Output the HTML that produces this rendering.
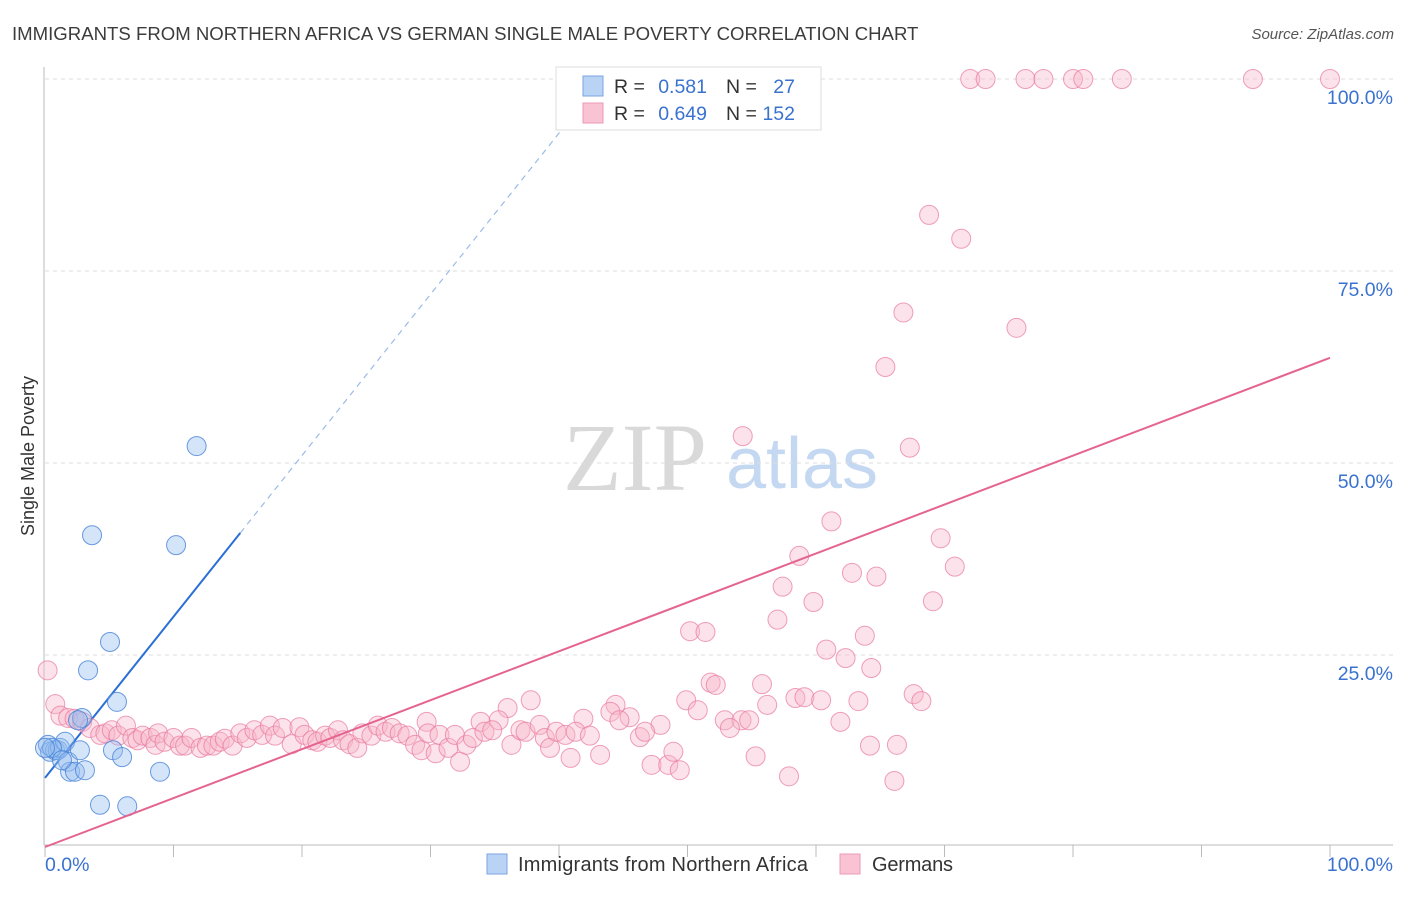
<!DOCTYPE html>
<html><head><meta charset="utf-8"><style>
body{margin:0;background:#fff;font-family:"Liberation Sans",sans-serif;}
</style></head><body>
<svg width="1406" height="892" xmlns="http://www.w3.org/2000/svg" id="chart">
<text x="12" y="40" font-size="18.6" fill="#3c3c3c">IMMIGRANTS FROM NORTHERN AFRICA VS GERMAN SINGLE MALE POVERTY CORRELATION CHART</text>
<text x="1394" y="39" font-size="15" fill="#555" font-style="italic" text-anchor="end">Source: ZipAtlas.com</text>
<text transform="translate(34,456) rotate(-90)" font-size="18" fill="#333" text-anchor="middle">Single Male Poverty</text>
<g>
<text x="635" y="490" font-size="96" fill="#d9d9d9" text-anchor="middle" font-family="Liberation Serif,serif">ZIP</text>
<text x="802" y="488" font-size="72" fill="#c5d8f2" text-anchor="middle">atlas</text>
</g>
<g id="grid"></g>
<g id="axes"></g>
<g id="lines"></g>
<g id="pts"></g>
<g>
<rect x="556" y="67" width="265" height="63" fill="#fff" stroke="#ddd"/>
<rect x="583" y="76" width="20" height="20" fill="#b9d3f5" stroke="#7aa6e0"/>
<rect x="583" y="103" width="20" height="20" fill="#f9c3d3" stroke="#eb9ab5"/>
<text x="614" y="93" font-size="19.5" fill="#333">R =</text>
<text x="707" y="93" font-size="19.5" fill="#3a72cf" text-anchor="end">0.581</text>
<text x="726" y="93" font-size="19.5" fill="#333">N =</text>
<text x="795" y="93" font-size="19.5" fill="#3a72cf" text-anchor="end">27</text>
<text x="614" y="120" font-size="19.5" fill="#333">R =</text>
<text x="707" y="120" font-size="19.5" fill="#3a72cf" text-anchor="end">0.649</text>
<text x="726" y="120" font-size="19.5" fill="#333">N =</text>
<text x="795" y="120" font-size="19.5" fill="#3a72cf" text-anchor="end">152</text>
</g>
<g>
<rect x="487" y="854" width="20" height="20" fill="#b9d3f5" stroke="#7aa6e0"/>
<text x="518" y="871" font-size="20" fill="#333" textLength="290">Immigrants from Northern Africa</text>
<rect x="840" y="854" width="20" height="20" fill="#f9c3d3" stroke="#eb9ab5"/>
<text x="872" y="871" font-size="20" fill="#333" textLength="81">Germans</text>
</g>
</svg>
<script>
const yTicks=[25,50,75,100];
const yTickLabels=["25.0%","50.0%","75.0%","100.0%"];
const xEndLabels=["0.0%","100.0%"];
const blueX=[0.23,0.39,0.78,1.0,1.17,1.56,1.79,1.95,2.33,2.72,2.88,3.11,3.35,3.66,4.28,5.06,5.29,5.6,6.0,6.4,8.95,10.2,11.8,0.54,1.32,2.57,0];
const blueY=[13.3,12.4,12.6,12.6,12.9,13.7,11.1,9.8,9.8,12.6,16.8,10.0,23.0,40.6,5.5,26.7,12.6,18.9,11.7,5.3,9.8,39.3,52.2,12.9,11.3,16.5,12.9];
const pinkX=[72.0,73.2,76.3,77.7,80.0,80.8,83.8,94.0,100,68.8,71.3,66.8,75.6,65.4,54.3,67.3,61.2,58.7,69.7,70.8,62.8,64.7,57.4,59.8,69.1,57.0,50.2,51.4,63.8,60.8,62.3,64.3,51.8,52.2,55.8,58.4,59.1,49.9,67.6,68.2,37.8,50.8,56.2,60.4,63.3,44.4,44.0,36.0,41.9,45.5,52.9,54.2,54.8,61.9,47.9,35.3,29.7,44.7,53.3,0.2,0.8,1.2,1.8,2.3,2.9,3.5,4.3,4.7,5.2,5.7,6.3,6.8,7.2,7.6,8.2,8.6,8.8,9.3,10.0,10.5,10.9,11.4,12.1,12.6,13.1,13.6,14.0,14.6,15.2,15.7,16.3,16.9,17.5,17.9,18.5,19.2,19.8,20.2,20.8,21.2,21.8,22.2,22.8,23.2,23.7,24.3,24.7,25.4,25.9,26.5,27.0,27.6,28.2,28.8,29.3,29.8,30.4,30.7,31.4,31.9,32.3,32.8,33.3,33.9,34.2,34.8,36.3,37.0,37.4,38.5,38.9,39.3,39.8,40.5,40.9,41.3,42.4,43.2,46.3,46.7,47.2,48.5,48.9,49.4,55.3,57.9,64.2,66.1,66.3];
const pinkY=[100,100,100,100,100,100,100,100,100,82.3,79.2,69.6,67.6,62.5,53.5,52.0,42.4,37.9,40.2,36.5,35.7,35.2,33.9,31.9,32.0,29.6,28.1,28.0,27.5,25.7,24.6,23.3,21.4,21.1,21.2,19.4,19.5,19.1,19.9,19.0,19.1,17.8,18.5,19.1,19.0,18.5,17.6,18.1,16.7,16.9,16.5,16.5,16.5,16.3,15.9,16.5,16.3,16.5,15.5,23.0,18.6,17.1,16.8,16.7,16.3,15.5,14.6,14.8,15.2,14.5,15.8,14.2,13.9,14.5,14.2,13.3,14.8,13.7,14.2,13.2,13.2,14.2,12.9,13.2,13.2,13.7,14.1,13.2,14.8,14.2,15.2,14.6,15.8,14.5,15.5,13.4,15.6,14.6,13.9,13.7,14.5,14.2,15.2,13.9,13.4,12.9,14.8,14.5,15.8,15.0,15.5,14.8,14.5,13.3,12.6,14.8,12.2,14.6,12.9,14.6,11.1,13.3,14.2,16.3,15.0,15.2,13.3,15.2,15.0,15.9,14.2,12.9,15.0,14.6,11.6,15.0,14.5,12.0,14.3,15.0,10.7,10.7,12.4,10.0,11.8,9.2,13.2,8.6,13.3];
const blueLineX=[0,15.2];const blueLineY=[9.0,40.9];
const blueDashX=[15.2,41.7];
const pinkLineX=[0,100];const pinkLineY=[0,63.7];
const NS="http://www.w3.org/2000/svg";
const X=v=>45+v*12.85, Y=v=>847-v*7.68;
function mk(tag,attrs,parent){const e=document.createElementNS(NS,tag);for(const k in attrs)e.setAttribute(k,attrs[k]);document.getElementById(parent).appendChild(e);return e;}
yTicks.forEach((t,i)=>{
 const g=mk('line',{x1:45,x2:1393,y1:Y(t),y2:Y(t),stroke:'#ddd','stroke-dasharray':'4,4'},'grid');
 
 
 const l=mk('text',{x:1393,y:Y(t)+25,'font-size':19.5,fill:'#3a72cf','text-anchor':'end'},'axes');
 l.textContent=yTickLabels[i];
 
 
});
const ya=mk('line',{x1:44,x2:44,y1:67,y2:845,stroke:'#bbb'},'axes');


const xa=mk('line',{x1:44,x2:1393,y1:845,y2:845,stroke:'#bbb'},'axes');


for(let i=0;i<=10;i++){const t=mk('line',{x1:X(i*10),x2:X(i*10),y1:845,y2:857,stroke:'#bbb'},'axes');
 
 }
const x0=mk('text',{x:45,y:871,'font-size':19.5,fill:'#3a72cf'},'axes');x0.textContent=xEndLabels[0];


const x1=mk('text',{x:1393,y:871,'font-size':19.5,fill:'#3a72cf','text-anchor':'end'},'axes');x1.textContent=xEndLabels[1];


const slope=(blueLineY[1]-blueLineY[0])/(blueLineX[1]-blueLineX[0]);
const bl=mk('line',{x1:X(blueLineX[0]),y1:Y(blueLineY[0]),x2:X(blueLineX[1]),y2:Y(blueLineY[1]),stroke:'#2a6fd6','stroke-width':2},'lines');


const bd=mk('line',{x1:X(blueDashX[0]),y1:Y(blueLineY[0]+slope*blueDashX[0]),x2:X(blueDashX[1]),y2:Y(blueLineY[0]+slope*blueDashX[1]),stroke:'#9bbbe8','stroke-width':1.2,'stroke-dasharray':'6,5'},'lines');


pinkX.forEach((v,i)=>{const c=mk('circle',{cx:X(v),cy:Y(pinkY[i]),r:9.5,fill:'rgba(248,182,202,0.4)',stroke:'rgba(232,120,158,0.7)','stroke-width':1},'pts');
 
 });
blueX.forEach((v,i)=>{const c=mk('circle',{cx:X(v),cy:Y(blueY[i]),r:9.5,fill:'rgba(150,190,240,0.4)',stroke:'rgba(70,130,215,0.8)','stroke-width':1},'pts');
 
 });
const pl=mk('line',{x1:X(pinkLineX[0]),y1:Y(pinkLineY[0]),x2:X(pinkLineX[1]),y2:Y(pinkLineY[1]),stroke:'#e5648f','stroke-width':2},'pts');


</script>
</body></html>
